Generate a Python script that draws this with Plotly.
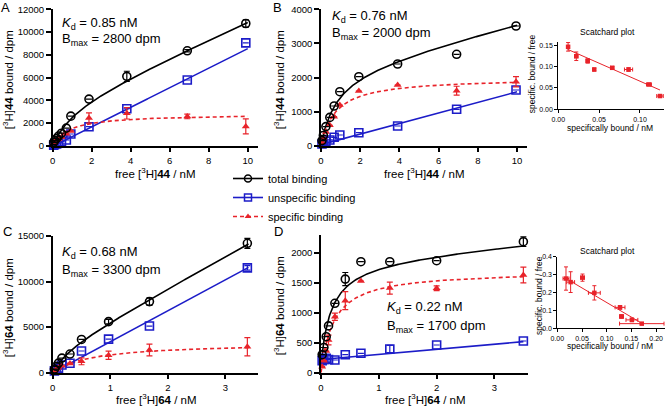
import numpy as np
import plotly.graph_objects as go

W, H = 666, 406
def fx(p): return p / W
def fy(p): return 1 - p / H

BLACK = '#000000'
BLUE = '#1c1cc8'
RED = '#e8232a'
FONT = 'Liberation Sans, Arial, sans-serif'

# ---------------- data ----------------
# Panel A  ([3H]44)
a_x = [0.05, 0.1, 0.2, 0.3, 0.45, 0.7, 0.93, 1.86, 3.8, 6.9, 9.9]
a_total = [300, 450, 650, 850, 1100, 1550, 2600, 4100, 6100, 8350, 10750]
a_total_err = [0, 0, 0, 0, 0, 0, 0, 0, 450, 100, 330]
a_unspec = [50, 100, 150, 250, 350, 500, 1030, 1670, 3250, 5780, 9050]
a_unspec_err = [0] * 11
a_spec = [250, 350, 500, 600, 750, 1050, 1300, 2430, 2850, 2570, 1700]
a_spec_err = [0, 0, 0, 0, 0, 0, 0, 450, 500, 200, 660]
a_fit = dict(Bt=3600, Kt=1.1, nt=760, Bs=2800, Ks=0.85, ns=860, cs=-60)

# Panel B  ([3H]44, Scatchard)
b_x = [0.05, 0.12, 0.25, 0.45, 0.67, 0.96, 1.93, 3.91, 6.92, 9.95]
b_total = [150, 300, 560, 830, 1164, 1584, 2023, 2396, 2680, 3510]
b_total_err = [0] * 10
b_unspec = [50, 80, 130, 168, 246, 314, 381, 578, 1067, 1633]
b_unspec_err = [0] * 10
b_spec = [100, 220, 400, 600, 850, 1190, 1604, 1780, 1613, 1877]
b_spec_err = [0, 0, 0, 0, 0, 0, 0, 0, 130, 150]
b_fit = dict(Bt=2300, Kt=0.8, nt=140, Bs=2000, Ks=0.76, ns=155, cs=30)

bs_x = [0.012, 0.022, 0.036, 0.044, 0.066, 0.086, 0.111, 0.1245]
bs_y = [0.146, 0.124, 0.113, 0.093, 0.097, 0.093, 0.058, 0.031]
bs_xerr = [0.001, 0.002, 0.002, 0.001, 0.002, 0.005, 0.003, 0.004]
bs_yerr = [0.010, 0.010, 0.005, 0.003, 0.003, 0.004, 0.003, 0.002]
bs_line = dict(intercept=0.1497, slope=-0.84, x0=0.0115, x1=0.1245)

# Panel C  ([3H]64)
c_x = [0.03, 0.06, 0.1, 0.16, 0.3, 0.5, 0.97, 1.68, 3.38]
c_total = [400, 700, 1050, 1600, 2050, 3650, 5600, 7800, 14200]
c_total_err = [0, 0, 0, 0, 0, 0, 250, 420, 550]
c_unspec = [200, 350, 500, 850, 1030, 2380, 3680, 5120, 11500]
c_unspec_err = [0, 0, 0, 0, 0, 0, 0, 0, 250]
c_spec = [200, 350, 550, 750, 1020, 1250, 1920, 2490, 2850]
c_spec_err = [0, 0, 0, 0, 0, 380, 450, 650, 1000]
c_fit = dict(Bt=2600, Kt=0.3, nt=3450, Bs=3300, Ks=0.68, ns=3400, cs=0)

# Panel D  ([3H]64, Scatchard)
d_x = [0.02, 0.05, 0.09, 0.13, 0.24, 0.42, 0.69, 1.19, 2.0, 3.5]
d_total = [300, 420, 600, 780, 1157, 1560, 1850, 1850, 1867, 2183]
d_total_err = [0, 0, 0, 0, 0, 110, 0, 0, 0, 80]
d_unspec = [200, 220, 240, 220, 212, 300, 323, 395, 462, 528]
d_unspec_err = [60, 0, 0, 0, 0, 0, 0, 60, 0, 0]
d_spec = [100, 200, 360, 545, 933, 1200, 1527, 1410, 1407, 1628]
d_spec_err = [0, 0, 0, 80, 60, 150, 0, 100, 40, 130]
d_fit = dict(Bt=1750, Kt=0.18, nt=85, ct=150, Bs=1700, Ks=0.22, ns=85, cs=220)

ds_x = [0.0176, 0.027, 0.051, 0.075, 0.127, 0.130, 0.151, 0.171]
ds_y = [0.278, 0.258, 0.283, 0.198, 0.117, 0.066, 0.047, 0.026]
ds_xerr = [0.006, 0.008, 0.004, 0.012, 0.010, 0.004, 0.012, 0.045]
ds_yerr = [0.065, 0.058, 0.020, 0.040, 0.010, 0.010, 0.010, 0.005]
ds_line = dict(intercept=0.307, slope=-1.63, x0=0.0176, x1=0.171)

# ---------------- figure ----------------
fig = go.Figure()

def axis(domain_px, rng, tickvals, fmt, anchor, size=9.5, ticklen=5, lw=1.5, horiz=True):
    if horiz:
        dom = [fx(domain_px[0]), fx(domain_px[1])]
    else:
        dom = [fy(domain_px[0]), fy(domain_px[1])]
    return dict(domain=dom, range=rng, tickvals=tickvals, tickformat=fmt, anchor=anchor,
                automargin=False,
                showgrid=False, zeroline=False, showline=True, linecolor=BLACK, linewidth=lw,
                ticks='outside', ticklen=ticklen, tickwidth=lw, tickcolor=BLACK,
                tickfont=dict(size=size, color=BLACK, family=FONT), fixedrange=True)

lay = {}
# A
lay['xaxis'] = axis((52.7, 257.5), [0, 10.5], [0, 2, 4, 6, 8, 10], 'd', 'y')
lay['yaxis'] = axis((145.7, 9.3), [0, 12000], list(range(0, 12001, 2000)), 'd', 'x', horiz=False)
# B
lay['xaxis2'] = axis((321, 526.8), [0, 10.5], [0, 2, 4, 6, 8, 10], 'd', 'y2')
lay['yaxis2'] = axis((145.7, 9.3), [0, 4000], [0, 1000, 2000, 3000, 4000], 'd', 'x2', horiz=False)
# C
lay['xaxis3'] = axis((52.7, 258.3), [0, 3.57], [0, 1, 2, 3], 'd', 'y3')
lay['yaxis3'] = axis((372.7, 236), [0, 15000], [0, 5000, 10000, 15000], 'd', 'x3', horiz=False)
# D
lay['xaxis4'] = axis((321, 528), [0, 3.58], [0, 1, 2, 3], 'd', 'y4')
lay['yaxis4'] = axis((372.7, 234.7), [0, 2300], [0, 500, 1000, 1500, 2000], 'd', 'x4', horiz=False)
# B inset
lay['xaxis5'] = axis((558.3, 664), [0, 0.1294], [0, 0.05, 0.10], '.2f', 'y5', size=7, ticklen=3, lw=1)
lay['yaxis5'] = axis((109.3, 41.7), [0, 0.158], [0, 0.05, 0.10, 0.15], '.2f', 'x5', size=7, ticklen=3, lw=1, horiz=False)
# D inset
lay['xaxis6'] = axis((557.3, 665), [0, 0.218], [0, 0.05, 0.10, 0.15, 0.20], '.2f', 'y6', size=7, ticklen=3, lw=1)
lay['yaxis6'] = axis((328.3, 256.7), [0, 0.4], [0, 0.1, 0.2, 0.3, 0.4], '.1f', 'x6', size=7, ticklen=3, lw=1, horiz=False)

def err(arr, color, w=3, t=1.2):
    return dict(type='data', array=arr, visible=True, color=color, thickness=t, width=w)

def panel(k, xs, tot, tot_e, uns, uns_e, spc, spc_e, fit, xmax):
    xa = 'x' if k == 1 else f'x{k}'
    ya = 'y' if k == 1 else f'y{k}'
    g = np.linspace(0, xmax, 300)
    total_curve = fit['Bt'] * g / (fit['Kt'] + g) + fit['nt'] * g + fit.get('ct', 0)
    spec_curve = fit['Bs'] * g / (fit['Ks'] + g)
    uns_curve = fit['ns'] * g + fit['cs']
    fig.add_trace(go.Scatter(x=g, y=uns_curve, mode='lines', line=dict(color=BLUE, width=1.6),
                             xaxis=xa, yaxis=ya, showlegend=False, hoverinfo='skip'))
    fig.add_trace(go.Scatter(x=g, y=total_curve, mode='lines', line=dict(color=BLACK, width=1.6),
                             xaxis=xa, yaxis=ya, showlegend=False, hoverinfo='skip'))
    fig.add_trace(go.Scatter(x=g, y=spec_curve, mode='lines', line=dict(color=RED, width=1.6, dash='4px,3px'),
                             xaxis=xa, yaxis=ya, showlegend=False, hoverinfo='skip'))
    fig.add_trace(go.Scatter(x=xs, y=uns, mode='markers', error_y=err(uns_e, BLUE),
                             marker=dict(symbol='square-open', size=8, color=BLUE, line=dict(width=1.6, color=BLUE)),
                             xaxis=xa, yaxis=ya, showlegend=False, cliponaxis=False))
    fig.add_trace(go.Scatter(x=xs, y=spc, mode='markers', error_y=err(spc_e, RED),
                             marker=dict(symbol='triangle-up', size=7, color=RED),
                             xaxis=xa, yaxis=ya, showlegend=False, cliponaxis=False))
    fig.add_trace(go.Scatter(x=xs, y=tot, mode='markers', error_y=err(tot_e, BLACK),
                             marker=dict(symbol='circle-open', size=8, color=BLACK, line=dict(width=1.6, color=BLACK)),
                             xaxis=xa, yaxis=ya, showlegend=False, cliponaxis=False))

panel(1, a_x, a_total, a_total_err, a_unspec, a_unspec_err, a_spec, a_spec_err, a_fit, 10)
panel(2, b_x, b_total, b_total_err, b_unspec, b_unspec_err, b_spec, b_spec_err, b_fit, 10)
panel(3, c_x, c_total, c_total_err, c_unspec, c_unspec_err, c_spec, c_spec_err, c_fit, 3.4)
panel(4, d_x, d_total, d_total_err, d_unspec, d_unspec_err, d_spec, d_spec_err, d_fit, 3.5)

def scatchard(k, xs, ys, xe, ye, line):
    xa, ya = f'x{k}', f'y{k}'
    lx = np.array([line['x0'], line['x1']])
    fig.add_trace(go.Scatter(x=lx, y=line['intercept'] + line['slope'] * lx, mode='lines',
                             line=dict(color=RED, width=1), xaxis=xa, yaxis=ya, showlegend=False, hoverinfo='skip'))
    fig.add_trace(go.Scatter(x=xs, y=ys, mode='markers',
                             error_y=err(ye, RED, w=2, t=1), error_x=err(xe, RED, w=2, t=1),
                             marker=dict(symbol='square', size=4.5, color=RED),
                             xaxis=xa, yaxis=ya, showlegend=False, cliponaxis=False))

scatchard(5, bs_x, bs_y, bs_xerr, bs_yerr, bs_line)
scatchard(6, ds_x, ds_y, ds_xerr, ds_yerr, ds_line)

# legend entries
fig.add_trace(go.Scatter(x=[None], y=[None], mode='lines+markers', name='total binding',
                         line=dict(color=BLACK, width=1.6),
                         marker=dict(symbol='circle-open', size=7, color=BLACK, line=dict(width=1.5))))
fig.add_trace(go.Scatter(x=[None], y=[None], mode='lines+markers', name='unspecific binding',
                         line=dict(color=BLUE, width=1.6),
                         marker=dict(symbol='square-open', size=7, color=BLUE, line=dict(width=1.5))))
fig.add_trace(go.Scatter(x=[None], y=[None], mode='lines+markers', name='specific binding',
                         line=dict(color=RED, width=1.6, dash='4px,3px'),
                         marker=dict(symbol='triangle-up', size=6, color=RED)))

ann = []
def text(x, y, s, size, xanchor='center', angle=0, yanchor='middle'):
    ann.append(dict(x=fx(x), y=fy(y), xref='paper', yref='paper', text=s, showarrow=False,
                    xanchor=xanchor, yanchor=yanchor, textangle=angle,
                    font=dict(size=size, color=BLACK, family=FONT)))

# panel letters
text(5, 8, 'A', 13)
text(277.5, 8, 'B', 13)
text(7.3, 231.7, 'C', 13)
text(278.3, 231.7, 'D', 13)

# Kd / Bmax
text(60, 23.3, '<i>K</i><sub>d</sub> = 0.85 nM', 13, xanchor='left')
text(60, 40, 'B<sub>max</sub> = 2800 dpm', 13, xanchor='left')
text(330, 16.7, '<i>K</i><sub>d</sub> = 0.76 nM', 13, xanchor='left')
text(330, 33.3, 'B<sub>max</sub> = 2000 dpm', 13, xanchor='left')
text(60, 252, '<i>K</i><sub>d</sub> = 0.68 nM', 13, xanchor='left')
text(60, 270, 'B<sub>max</sub> = 3300 dpm', 13, xanchor='left')
text(385, 307.5, '<i>K</i><sub>d</sub> = 0.22 nM', 13, xanchor='left')
text(385, 326.5, 'B<sub>max</sub> = 1700 dpm', 13, xanchor='left')

# axis titles
yt44 = '[<sup>3</sup>H]<b>44</b> bound / dpm'
yt64 = '[<sup>3</sup>H]<b>64</b> bound / dpm'
xt44 = 'free [<sup>3</sup>H]<b>44</b> / nM'
xt64 = 'free [<sup>3</sup>H]<b>64</b> / nM'
text(8.3, 80, yt44, 11.5, angle=-90)
text(279.3, 80, yt44, 11.5, angle=-90)
text(8.3, 308, yt64, 11.5, angle=-90)
text(279.3, 306, yt64, 11.5, angle=-90)
text(155.5, 173.3, xt44, 11.5)
text(424.5, 173.3, xt44, 11.5)
text(156.3, 398.5, xt64, 11.5)
text(425.5, 398.5, xt64, 11.5)

# inset texts
text(607.7, 31.7, 'Scatchard plot', 8.5)
text(532.3, 74, 'specific. bound / free', 8.5, angle=-90)
text(610, 127.7, 'specifically bound / nM', 8.5)
text(607.8, 251, 'Scatchard plot', 8.5)
text(539, 296, 'specific. bound / free', 8.5, angle=-90)
text(609.7, 346, 'specifically bound / nM', 8.5)

fig.update_layout(
    width=W, height=H, margin=dict(l=0, r=0, t=0, b=0, autoexpand=False),
    paper_bgcolor='white', plot_bgcolor='white',
    font=dict(family=FONT, color=BLACK),
    annotations=ann,
    legend=dict(x=fx(228), y=fy(164), xanchor='left', yanchor='top',
                font=dict(size=11, color=BLACK, family=FONT),
                bgcolor='rgba(0,0,0,0)', itemwidth=30, tracegroupgap=0),
    **lay,
)

fig.write_html('out.html', config={'displayModeBar': False},
               post_script="document.body.style.margin='0';document.body.style.padding='0';")
